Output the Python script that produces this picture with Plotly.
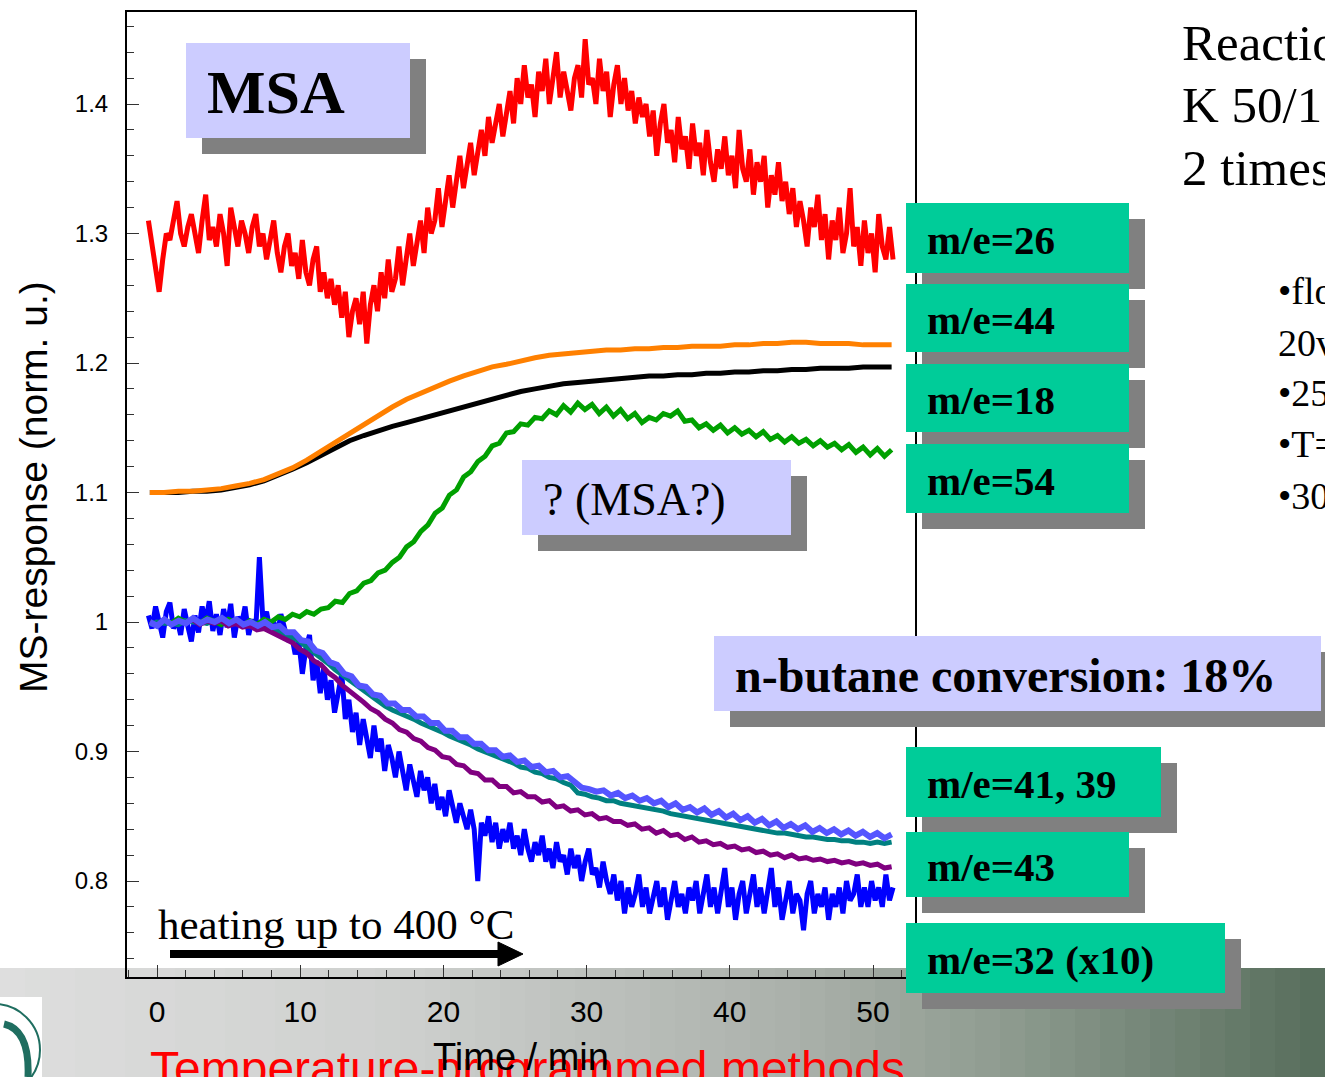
import numpy as np
import plotly.graph_objects as go

# ---------------- data ----------------
# m/e=26 (red), sampled every 0.25 min from -0.6 to 51.4 min
red_t = (-0.6, 51.4)
red_v = [1.31, 1.29, 1.27, 1.255, 1.28, 1.30, 1.295, 1.31, 1.325, 1.30,
         1.29, 1.305, 1.315, 1.30, 1.285, 1.31, 1.33, 1.295, 1.305, 1.29,
         1.315, 1.30, 1.275, 1.32, 1.305, 1.29, 1.31, 1.30, 1.285, 1.305,
         1.315, 1.29, 1.30, 1.28, 1.295, 1.31, 1.285, 1.27, 1.29, 1.30,
         1.275, 1.285, 1.265, 1.295, 1.27, 1.26, 1.28, 1.29, 1.255, 1.27,
         1.25, 1.265, 1.245, 1.26, 1.235, 1.255, 1.22, 1.24, 1.25, 1.23,
         1.255, 1.215, 1.245, 1.26, 1.24, 1.27, 1.25, 1.28, 1.255, 1.265,
         1.29, 1.26, 1.28, 1.30, 1.275, 1.295, 1.31, 1.285, 1.32, 1.30,
         1.31, 1.335, 1.305, 1.325, 1.345, 1.32, 1.34, 1.36, 1.335, 1.355,
         1.37, 1.345, 1.365, 1.38, 1.36, 1.39, 1.37, 1.385, 1.40, 1.375,
         1.395, 1.41, 1.385, 1.42, 1.40, 1.43, 1.405, 1.415, 1.39, 1.425,
         1.41, 1.435, 1.40, 1.42, 1.44, 1.405, 1.425, 1.41, 1.395, 1.42,
         1.43, 1.405, 1.45, 1.415, 1.42, 1.40, 1.435, 1.41, 1.425, 1.39,
         1.415, 1.43, 1.40, 1.42, 1.395, 1.41, 1.385, 1.405, 1.39, 1.40,
         1.375, 1.395, 1.36, 1.385, 1.40, 1.37, 1.38, 1.355, 1.39, 1.365,
         1.375, 1.35, 1.385, 1.36, 1.37, 1.345, 1.38, 1.355, 1.34, 1.365,
         1.35, 1.375, 1.345, 1.36, 1.335, 1.38, 1.35, 1.34, 1.365, 1.33,
         1.355, 1.34, 1.36, 1.32, 1.345, 1.33, 1.355, 1.325, 1.34, 1.315,
         1.335, 1.305, 1.325, 1.31, 1.29, 1.32, 1.305, 1.33, 1.295, 1.315,
         1.28, 1.31, 1.295, 1.32, 1.285, 1.30, 1.335, 1.29, 1.305, 1.275,
         1.31, 1.285, 1.30, 1.27, 1.315, 1.29, 1.28, 1.305, 1.28]

# m/e=44 (orange) and m/e=18 (black), ~1 min steps
orange_t = (-0.5, 51.3)
orange_v = [1.100, 1.100, 1.101, 1.101, 1.102, 1.103, 1.105, 1.107, 1.110, 1.114, 1.119, 1.125,
            1.132, 1.139, 1.146, 1.153, 1.160, 1.166, 1.172, 1.177, 1.182, 1.186, 1.190, 1.194,
            1.197, 1.199, 1.202, 1.204, 1.206, 1.207, 1.208, 1.209, 1.210, 1.210, 1.211, 1.211,
            1.212, 1.212, 1.213, 1.213, 1.213, 1.214, 1.214, 1.215, 1.215, 1.216, 1.216, 1.215,
            1.215, 1.215, 1.214, 1.214, 1.214]
black_t = (-0.5, 51.3)
black_v = [1.100, 1.100, 1.100, 1.101, 1.101, 1.102, 1.104, 1.106, 1.109, 1.113, 1.118, 1.123,
           1.129, 1.135, 1.140, 1.144, 1.148, 1.151, 1.154, 1.157, 1.160, 1.163, 1.166, 1.169,
           1.172, 1.175, 1.178, 1.180, 1.182, 1.184, 1.185, 1.186, 1.187, 1.188, 1.189, 1.190,
           1.190, 1.191, 1.191, 1.192, 1.192, 1.193, 1.193, 1.194, 1.194, 1.195, 1.195, 1.196,
           1.196, 1.196, 1.197, 1.197, 1.197]

# m/e=54 (green), ~0.5 min steps
green_t = (-0.5, 51.3)
green_v = [1.000, 0.998, 1.002, 0.999, 1.003, 1.000, 1.002, 0.999, 1.003, 1.001, 0.998, 1.002,
           0.999, 0.997, 1.001, 0.998, 1.002, 1.000, 1.004, 1.002, 1.006, 1.004, 1.008, 1.006,
           1.010, 1.011, 1.016, 1.015, 1.022, 1.024, 1.030, 1.032, 1.038, 1.040, 1.046, 1.050,
           1.058, 1.062, 1.070, 1.075, 1.084, 1.088, 1.098, 1.102, 1.112, 1.116, 1.124, 1.128,
           1.136, 1.138, 1.146, 1.147, 1.153, 1.152, 1.158, 1.157, 1.163, 1.160, 1.167, 1.162,
           1.169, 1.164, 1.168, 1.161, 1.166, 1.159, 1.164, 1.157, 1.161, 1.154, 1.158, 1.156,
           1.161, 1.159, 1.163, 1.155, 1.156, 1.150, 1.153, 1.148, 1.152, 1.146, 1.150, 1.145,
           1.148, 1.143, 1.147, 1.141, 1.144, 1.139, 1.143, 1.138, 1.141, 1.136, 1.140, 1.135,
           1.138, 1.133, 1.137, 1.131, 1.135, 1.129, 1.134, 1.128, 1.133]

# m/e=41 (teal), ~0.5 min steps
teal_t = (-0.5, 51.3)
teal_v = [0.998, 1.000, 0.999, 0.999, 0.998, 1.001, 1.000, 1.000, 0.999, 1.001, 1.000, 0.999,
          0.999, 0.998, 0.997, 0.997, 0.996, 0.995, 0.993, 0.991, 0.988, 0.985, 0.981, 0.977,
          0.972, 0.968, 0.963, 0.959, 0.954, 0.950, 0.946, 0.942, 0.939, 0.935, 0.932, 0.930,
          0.927, 0.925, 0.922, 0.920, 0.917, 0.915, 0.912, 0.910, 0.907, 0.905, 0.902, 0.900,
          0.897, 0.895, 0.893, 0.891, 0.888, 0.887, 0.884, 0.883, 0.880, 0.879, 0.876, 0.874,
          0.868, 0.867, 0.865, 0.864, 0.862, 0.862, 0.860, 0.859, 0.858, 0.857, 0.856, 0.855,
          0.854, 0.852, 0.851, 0.850, 0.849, 0.848, 0.847, 0.846, 0.845, 0.844, 0.843, 0.842,
          0.841, 0.840, 0.839, 0.838, 0.837, 0.837, 0.836, 0.835, 0.834, 0.834, 0.833, 0.832,
          0.832, 0.831, 0.831, 0.830, 0.830, 0.829, 0.830, 0.829, 0.830]

# m/e=43 (purple), ~0.5 min steps
purple_t = (-0.5, 51.3)
purple_v = [1.000, 0.997, 1.002, 0.998, 1.001, 0.999, 1.002, 0.998, 1.001, 0.999, 1.001, 0.997,
            0.999, 0.996, 0.997, 0.994, 0.995, 0.992, 0.990, 0.986, 0.984, 0.979, 0.976, 0.970,
            0.967, 0.961, 0.957, 0.951, 0.947, 0.942, 0.938, 0.933, 0.930, 0.925, 0.922, 0.917,
            0.915, 0.910, 0.908, 0.903, 0.901, 0.896, 0.895, 0.890, 0.889, 0.884, 0.883, 0.878,
            0.878, 0.873, 0.873, 0.868, 0.869, 0.865, 0.865, 0.861, 0.862, 0.857, 0.858, 0.854,
            0.855, 0.851, 0.852, 0.848, 0.849, 0.846, 0.846, 0.843, 0.844, 0.840, 0.841, 0.837,
            0.839, 0.835, 0.836, 0.832, 0.834, 0.830, 0.831, 0.828, 0.829, 0.826, 0.827, 0.824,
            0.825, 0.822, 0.823, 0.820, 0.821, 0.818, 0.820, 0.817, 0.818, 0.816, 0.817, 0.815,
            0.816, 0.814, 0.815, 0.813, 0.814, 0.812, 0.813, 0.810, 0.811]

# m/e=39 (slate blue), ~0.5 min steps
slate_t = (-0.5, 51.3)
slate_v = [1.000, 0.997, 1.002, 0.998, 1.001, 0.999, 1.003, 0.999, 1.002, 1.000, 1.003, 0.999,
           1.002, 0.998, 1.000, 0.997, 1.000, 0.996, 0.997, 0.992, 0.992, 0.986, 0.985, 0.978,
           0.976, 0.969, 0.967, 0.960, 0.958, 0.951, 0.950, 0.944, 0.943, 0.937, 0.937, 0.932,
           0.932, 0.927, 0.927, 0.922, 0.922, 0.916, 0.916, 0.911, 0.911, 0.906, 0.906, 0.901,
           0.901, 0.896, 0.897, 0.892, 0.893, 0.888, 0.889, 0.884, 0.885, 0.880, 0.881, 0.876,
           0.872, 0.871, 0.869, 0.870, 0.866, 0.868, 0.864, 0.866, 0.862, 0.864, 0.860, 0.862,
           0.857, 0.860, 0.855, 0.857, 0.853, 0.856, 0.851, 0.854, 0.849, 0.852, 0.847, 0.850,
           0.845, 0.848, 0.843, 0.846, 0.841, 0.844, 0.840, 0.843, 0.838, 0.841, 0.837, 0.840,
           0.836, 0.839, 0.835, 0.838, 0.834, 0.837, 0.833, 0.836]

# m/e=32 x10 (blue), sampled every 0.25 min from -0.6 to 51.4 min
blue_t = (-0.6, 51.4)
blue_v = [1.005, 0.995, 1.012, 1.000, 0.988, 1.008, 1.015, 0.995, 1.002, 0.990,
          1.010, 0.997, 0.985, 1.005, 0.992, 1.012, 1.000, 1.016, 0.993, 1.006,
          0.990, 1.010, 0.996, 1.014, 0.988, 1.004, 0.998, 1.012, 0.990, 1.002,
          0.995, 1.050, 1.000, 1.008, 0.993, 1.000, 0.990, 1.006, 0.995, 0.985,
          0.990, 0.975, 0.985, 0.960, 0.980, 0.990, 0.955, 0.970, 0.945, 0.965,
          0.940, 0.955, 0.930, 0.945, 0.960, 0.925, 0.940, 0.915, 0.930, 0.905,
          0.925, 0.910, 0.895, 0.920, 0.900, 0.910, 0.885, 0.905, 0.895, 0.880,
          0.900, 0.885, 0.870, 0.890, 0.875, 0.865, 0.885, 0.870, 0.880, 0.860,
          0.875, 0.855, 0.865, 0.850, 0.870, 0.855, 0.845, 0.860, 0.850, 0.840,
          0.855, 0.840, 0.800, 0.845, 0.835, 0.850, 0.830, 0.845, 0.825, 0.840,
          0.830, 0.845, 0.825, 0.835, 0.820, 0.840, 0.825, 0.815, 0.830, 0.820,
          0.835, 0.815, 0.825, 0.810, 0.830, 0.815, 0.820, 0.805, 0.825, 0.810,
          0.820, 0.800, 0.815, 0.825, 0.805, 0.810, 0.795, 0.815, 0.800, 0.790,
          0.805, 0.785, 0.800, 0.775, 0.795, 0.780, 0.790, 0.805, 0.780, 0.795,
          0.775, 0.790, 0.800, 0.780, 0.795, 0.770, 0.785, 0.800, 0.780, 0.790,
          0.775, 0.795, 0.785, 0.800, 0.775, 0.790, 0.805, 0.780, 0.795, 0.775,
          0.790, 0.810, 0.780, 0.795, 0.770, 0.790, 0.800, 0.775, 0.790, 0.805,
          0.780, 0.795, 0.775, 0.790, 0.810, 0.780, 0.795, 0.770, 0.785, 0.800,
          0.775, 0.790, 0.785, 0.762, 0.790, 0.800, 0.775, 0.790, 0.780, 0.795,
          0.770, 0.790, 0.780, 0.795, 0.775, 0.800, 0.785, 0.790, 0.805, 0.780,
          0.795, 0.780, 0.800, 0.785, 0.795, 0.780, 0.805, 0.785, 0.795]

y_tick_vals = [0.8, 0.9, 1.0, 1.1, 1.2, 1.3, 1.4]
y_tick_text = ["0.8", "0.9", "1", "1.1", "1.2", "1.3", "1.4"]
x_tick_vals = [0, 10, 20, 30, 40, 50]

series = [
    ("m/e=32 (x10)", blue_t, blue_v, "#0000ff", 5),
    ("m/e=54", green_t, green_v, "#00a000", 5),
    ("m/e=41", teal_t, teal_v, "#008080", 5),
    ("m/e=43", purple_t, purple_v, "#800080", 5),
    ("m/e=39", slate_t, slate_v, "#5555ff", 6),
    ("m/e=18", black_t, black_v, "#000000", 5),
    ("m/e=44", orange_t, orange_v, "#ff8000", 5),
    ("m/e=26", red_t, red_v, "#ff0000", 5),
]

# ---------------- figure ----------------
W, H = 1325, 1077


def px(x):
    return x / W


def py(y):
    return 1 - y / H


SERIF = "Liberation Serif, Times New Roman, serif"
SANS = "Liberation Sans, Arial, sans-serif"

fig = go.Figure()
for name, (t0, t1), vals, color, width in series:
    fig.add_trace(go.Scatter(
        x=np.linspace(t0, t1, len(vals)), y=vals, mode="lines", name=name,
        line=dict(color=color, width=width), showlegend=False, hoverinfo="skip"))

shapes = []

# gradient band along the bottom of the slide
stops = [(0, (222, 222, 222)), (400, (206, 208, 206)), (800, (170, 176, 170)),
         (1000, (143, 156, 144)), (1325, (86, 109, 91))]
step = 25
for x0 in range(0, W, step):
    xc = x0 + step / 2
    for (a, ca), (b, cb) in zip(stops[:-1], stops[1:]):
        if a <= xc <= b:
            f = (xc - a) / (b - a)
            c = tuple(int(round(ca[i] + f * (cb[i] - ca[i]))) for i in range(3))
            break
    shapes.append(dict(type="rect", xref="paper", yref="paper", layer="below",
                       x0=px(x0), x1=px(x0 + step + 1), y0=py(1077), y1=py(968),
                       line=dict(width=0), fillcolor="rgb(%d,%d,%d)" % c))

# logo corner
shapes.append(dict(type="rect", xref="paper", yref="paper", layer="above",
                   x0=px(0), x1=px(42), y0=py(1077), y1=py(997),
                   line=dict(width=0), fillcolor="white"))
shapes.append(dict(type="circle", xref="paper", yref="paper", layer="above",
                   x0=px(-52), x1=px(40), y0=py(1096), y1=py(1004),
                   line=dict(color="#1f6e60", width=2), fillcolor="rgba(0,0,0,0)"))
shapes.append(dict(type="path", xref="paper", yref="paper", layer="above",
                   path="M %f %f Q %f %f %f %f" % (px(4), py(1024), px(30), py(1030), px(28), py(1077)),
                   line=dict(color="#1f6e60", width=7)))

# heating arrow
shapes.append(dict(type="line", xref="paper", yref="paper", layer="above",
                   x0=px(170), x1=px(502), y0=py(954), y1=py(954),
                   line=dict(color="black", width=8)))
shapes.append(dict(type="path", xref="paper", yref="paper", layer="above",
                   path="M %f %f L %f %f L %f %f Z" % (px(498), py(942), px(523), py(954), px(498), py(966)),
                   line=dict(color="black", width=1), fillcolor="black"))

annotations = []

# label boxes with drop shadows
LAV = "#ccccff"
GRN = "#00cc99"
boxes = [
    ((186, 43, 410, 138), LAV, "<b>MSA</b>", 62),
    ((522, 460, 791, 535), LAV, "? (MSA?)", 46),
    ((906, 203, 1129, 273), GRN, "<b>m/e=26</b>", 41),
    ((906, 284, 1129, 352), GRN, "<b>m/e=44</b>", 41),
    ((906, 364, 1129, 432), GRN, "<b>m/e=18</b>", 41),
    ((906, 444, 1129, 513), GRN, "<b>m/e=54</b>", 41),
    ((714, 636, 1321, 711), LAV, "<b>n-butane conversion: 18%</b>", 48),
    ((906, 747, 1161, 817), GRN, "<b>m/e=41, 39</b>", 41),
    ((906, 832, 1129, 897), GRN, "<b>m/e=43</b>", 41),
    ((906, 923, 1225, 993), GRN, "<b>m/e=32 (x10)</b>", 41),
]
for (x0, y0, x1, y1), fill, text, size in boxes:
    shapes.append(dict(type="rect", xref="paper", yref="paper", layer="above",
                       x0=px(x0 + 16), x1=px(x1 + 16), y0=py(y1 + 16), y1=py(y0 + 16),
                       line=dict(width=0), fillcolor="#808080"))
    shapes.append(dict(type="rect", xref="paper", yref="paper", layer="above",
                       x0=px(x0), x1=px(x1), y0=py(y1), y1=py(y0),
                       line=dict(width=0), fillcolor=fill))
    annotations.append(dict(xref="paper", yref="paper", x=px(x0 + 19), y=py((y0 + y1) / 2 + 2),
                            xanchor="left", yanchor="middle", showarrow=False, text=text,
                            font=dict(family=SERIF, size=size, color="black")))

# free text (the right-hand column runs past the slide edge)
free_text = [
    (1180, 40, "Reactio", 51),
    (1180, 102, "K 50/1", 51),
    (1180, 165, "2 times", 51),
    (1276, 288, "•flo", 38),
    (1276, 340, "20v", 38),
    (1276, 390, "•25", 38),
    (1276, 441, "•T=", 38),
    (1276, 493, "•30", 38),
    (156, 921, "heating up to 400 °C", 43),
]
for x, y, text, size in free_text:
    annotations.append(dict(xref="paper", yref="paper", x=px(x), y=py(y + 3),
                            xanchor="left", yanchor="middle", showarrow=False, text=text,
                            font=dict(family=SERIF, size=size, color="black")))

# slide title (runs off the bottom edge)
annotations.append(dict(xref="paper", yref="paper", x=px(148), y=py(1040),
                        xanchor="left", yanchor="top", showarrow=False,
                        text="Temperature-programmed methods",
                        font=dict(family=SANS, size=48, color="#ff0000")))

# axis titles
annotations.append(dict(xref="paper", yref="paper", x=px(521), y=py(1057),
                        xanchor="center", yanchor="middle", showarrow=False,
                        text="Time / min", font=dict(family=SANS, size=38, color="black")))
annotations.append(dict(xref="paper", yref="paper", x=px(33), y=py(487),
                        xanchor="center", yanchor="middle", showarrow=False, textangle=-90,
                        text="MS-response (norm. u.)", font=dict(family=SANS, size=39, color="black")))

fig.update_layout(
    width=W, height=H,
    margin=dict(l=0, r=0, t=0, b=0),
    paper_bgcolor="white", plot_bgcolor="rgba(0,0,0,0)",
    shapes=shapes, annotations=annotations,
    xaxis=dict(domain=[px(127), px(915)], range=[(127 - 157) / 14.32, (915 - 157) / 14.32],
               tickvals=x_tick_vals, ticks="inside", ticklen=12, tickwidth=1, tickcolor="#333",
               minor=dict(dtick=2, ticks="inside", ticklen=7, tickcolor="#333"),
               showgrid=False, zeroline=False, showline=True, linecolor="black", linewidth=2,
               mirror=True, ticklabelstandoff=7,
               tickfont=dict(family=SANS, size=30, color="black")),
    yaxis=dict(domain=[py(977), py(12)], range=[1 - (977 - 622) / 1295, 1 + (622 - 12) / 1295],
               tickvals=y_tick_vals, ticktext=y_tick_text, ticks="inside", ticklen=12,
               tickwidth=1, tickcolor="#333",
               minor=dict(dtick=0.02, ticks="inside", ticklen=7, tickcolor="#333"),
               showgrid=False, zeroline=False, showline=True, linecolor="black", linewidth=2,
               mirror=True, ticklabelstandoff=12,
               tickfont=dict(family=SANS, size=24, color="black")),
)

fig.write_html("out.html")
